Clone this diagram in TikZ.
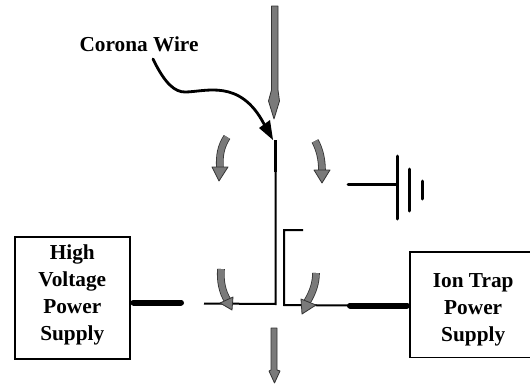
\documentclass[tikz,border=0pt]{standalone}
\usepackage{fontspec}
\setmainfont{Liberation Serif}
\usetikzlibrary{arrows.meta}
\begin{document}
\begin{tikzpicture}[x=1pt,y=-1pt,
  lbl/.style={font=\fontsize{21.3}{27}\selectfont\bfseries,text=black,inner sep=0pt},
  psbox/.style={lbl,align=center,anchor=north west},
  boxline/.style={line width=1.5pt,black},
  wire/.style={line width=2pt,black},
  feed/.style={line width=6pt,black,line cap=round},
  flow/.style={fill=black!52,draw=black!80,line width=0.8pt,line join=round},
  flowshaft/.style={draw=black!80,double=black!52,double distance=6pt,line width=0.8pt},
  gnd/.style={line width=3pt,black,line cap=round}]
\useasboundingbox (0,0) rectangle (530,383);
% labels and boxes
\node[lbl,anchor=center] (cw) at (139,44) {Corona Wire};
\node[psbox,draw=black,line width=1.5pt,minimum width=115pt,minimum height=122pt] (hv) at (14,236) {High\\Voltage\\Power\\Supply\\[-16pt]};
\node[psbox,minimum width=120pt,minimum height=105pt] (it) at (410,252) {\hspace*{6pt}\rule{0pt}{24pt}Ion Trap\\\hspace*{6pt}Power\\\hspace*{6pt}Supply};
\draw[boxline] (it.north east) -- (it.north west) -- (it.south west) -- (it.south east);
% coordinates
\coordinate (wt) at (275.5,140);
\coordinate (wm) at (275.5,172);
\coordinate (wb) at (275.5,304);
\coordinate (ll) at (204,303.5);
\coordinate (lf) at (181,302.5);
\coordinate (r0) at (303,230);
\coordinate (r1) at (284,230);
\coordinate (r2) at (284,305);
\coordinate (r3) at (350,305.5);
\coordinate (g0) at (348,184);
\coordinate (g1) at (397,184);
\coordinate (g1t) at (397,156);
\coordinate (g1b) at (397,219);
\coordinate (g2t) at (409,169);
\coordinate (g2b) at (409,211);
\coordinate (g3t) at (422,181);
\coordinate (g3b) at (422,199);
\coordinate (cs) at (153,59);
\coordinate (ct) at (273,140);
% corona wire
\draw[line width=3.2pt,black] (wt) -- (wm);
\draw[wire] (wm) -- (wb) -- (ll);
\draw[wire] (r0) -- (r1) -- (r2) -- (r3);
% feeds
\draw[feed,shorten <=3pt] (hv.east |- lf) -- (lf);
\draw[feed,shorten >=3pt] (r3) -- (it.west |- r3);
% ground
\draw[gnd] (g0) -- (g1);
\draw[gnd] (g1t) -- (g1b);
\draw[gnd] (g2t) -- (g2b);
\draw[gnd] (g3t) -- (g3b);
% pointer
\draw[line width=2.8pt,black,line cap=round] (cs) .. controls (165,84) and (175,92) .. (185,92)
  .. controls (205,92) and (240,78) .. (264,124);
\fill[black] (ct) -- (259,128) -- (270,120) -- cycle;
% straight flow arrows
\path[flow] (271.5,6) -- (278,6) -- (278,90) -- (279.5,101) -- (274,119) -- (268.5,101) -- (271.5,90) -- cycle;
\path[flow] (271,328) -- (277,328) -- (277,370) -- (280,371) -- (274.5,383) -- (269,371) -- (271,370) -- cycle;
% curved flow arrows
\draw[flowshaft] (227,137) .. controls (221,146) and (219,156) .. (220,168);
\path[flow] (212,167) -- (228,167) -- (219,181) -- cycle;
\draw[flowshaft] (315,141) .. controls (320,150) and (322,160) .. (322,171);
\path[flow] (314,170) -- (330,170) -- (322,183) -- cycle;
\draw[flowshaft] (221,269) .. controls (220,280) and (222,292) .. (228,301);
\path[flow] (220,303) -- (233,297) -- (232,310) -- cycle;
\draw[flowshaft] (316,273) .. controls (316,283) and (313,292) .. (307,302);
\path[flow] (301,299) -- (316,305) -- (302,314) -- cycle;
\end{tikzpicture}
\end{document}
